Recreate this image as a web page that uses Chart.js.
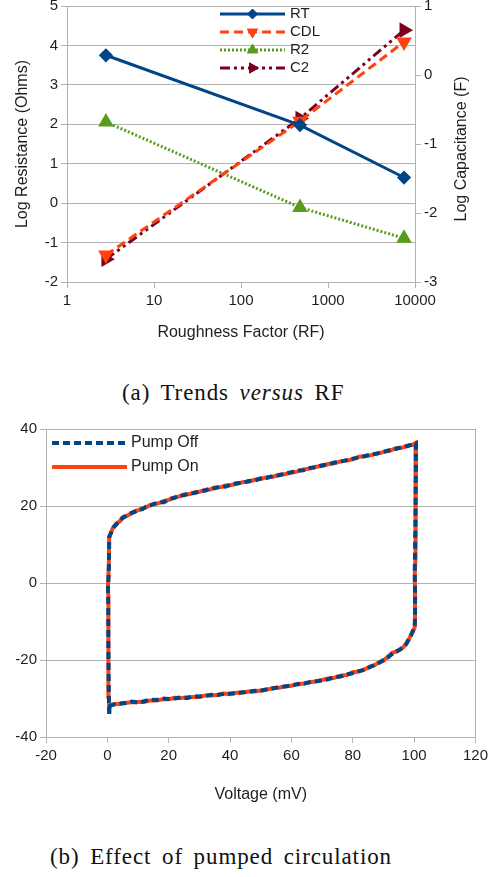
<!DOCTYPE html>
<html>
<head>
<meta charset="utf-8">
<script src="https://cdn.jsdelivr.net/npm/chart.js@4.4.1/dist/chart.umd.min.js"></script>
<style>
  html, body { margin: 0; padding: 0; background: #fff; }
  body { position: relative; width: 492px; height: 877px; overflow: hidden; }
  canvas { position: absolute; left: 0; }
  #trendsChart { top: -6px; }
  #pumpChart { top: 415px; }
  .caption {
    position: absolute; font-family: 'Liberation Serif', serif; font-size: 23px;
    line-height: 26px; color: #111; letter-spacing: 0.9px; word-spacing: 4px; white-space: nowrap;
  }
</style>
</head>
<body>
<canvas id="trendsChart" width="492" height="350"></canvas>
<div class="caption" style="left:122px; top:380px">(a) Trends <i>versus</i> RF</div>
<canvas id="pumpChart" width="492" height="395"></canvas>
<div class="caption" style="left:50px; top:844px">(b) Effect of pumped circulation</div>
<script>
// ---- (a) fitted parameters against roughness factor ----
const roughness = [2.8, 476, 7480];
const rtLog = [3.75, 1.98, 0.65];
const r2Log = [2.06, -0.11, -0.89];
const cdlLog = [-2.61, -0.67, 0.48];
const c2Log = [-2.67, -0.63, 0.65];
const roughnessTicks = [1, 10, 100, 1000, 10000];

// ---- (b) cyclic voltammogram, pump off / pump on ----
const sweepVoltage = [
  0.6, 0.5, 0.4, 0.3, 0.3, 0.2, 0.5, 0.6, 1.2, 2.0, 3.0, 4.0, 5.0, 6.5, 8.0, 9.0, 10.0, 11.5, 12.5, 14.0,
  15.0, 17.0, 18.5, 20.0, 22.0, 23.5, 25.0, 27.0, 28.5, 30.0, 32.0, 33.5, 35.0, 37.0, 38.5, 40.0, 42.0, 44.0,
  46.0, 48.0, 50.0, 52.0, 54.0, 56.0, 58.0, 60.0, 62.0, 64.0, 66.0, 68.0, 70.0, 72.0, 74.0, 76.0, 78.0, 80.0,
  82.0, 84.0, 86.0, 88.0, 90.0, 92.0, 94.0, 96.0, 98.0, 99.5, 100.6, 100.6, 100.5, 100.4, 100.3, 100.2, 100.3,
  100.3, 100.2, 99.6, 99.0, 98.2, 97.5, 96.5, 95.5, 94.5, 93.0, 91.5, 90.0, 88.5, 87.0, 85.5, 84.0, 82.0, 80.0,
  78.0, 76.0, 74.0, 72.0, 70.0, 68.0, 66.0, 64.0, 62.0, 60.0, 58.0, 56.0, 54.0, 52.0, 50.0, 48.0, 46.0, 44.0,
  42.0, 40.0, 38.0, 36.0, 34.0, 32.0, 30.0, 28.0, 26.0, 24.0, 22.0, 20.0, 18.0, 16.0, 14.0, 12.0, 10.0, 8.0,
  6.0, 4.0, 2.5, 1.5, 0.8, 0.6
];
const currentPumpOff = [
  -34.0, -30.0, -22.0, -12.0, -5.5, -2.0, 4.0, 11.9, 13.0, 14.4, 15.3, 16.2, 16.9, 17.6, 18.3, 18.5, 19.0, 19.2, 19.8, 20.1,
  20.5, 21.0, 21.0, 21.8, 22.1, 22.7, 22.8, 23.3, 23.4, 23.8, 24.0, 24.6, 24.6, 25.1, 25.0, 25.5, 25.9, 26.0,
  26.5, 26.6, 27.2, 27.3, 27.8, 28.0, 28.4, 28.8, 29.2, 29.3, 29.9, 30.1, 30.6, 30.8, 31.3, 31.5, 31.9, 32.3,
  32.6, 33.0, 33.4, 33.6, 34.1, 34.5, 34.8, 35.3, 35.6, 36.0, 36.3, 30.0, 22.0, 14.0, 8.0, 3.0, -2.0,
  -8.0, -11.3, -12.4, -13.6, -14.6, -15.8, -16.5, -17.3, -17.6, -18.3, -19.3, -20.0, -20.8, -21.3, -21.9, -22.5, -22.9, -23.4,
  -23.8, -24.3, -24.5, -25.0, -25.3, -25.5, -25.8, -26.1, -26.3, -26.6, -26.9, -27.0, -27.4, -27.6, -28.0, -28.0, -28.3, -28.4,
  -28.6, -28.7, -28.8, -29.1, -29.0, -29.3, -29.5, -29.4, -29.9, -29.7, -30.0, -30.1, -30.0, -30.4, -30.3, -30.7, -31.1, -30.8,
  -31.2, -31.3, -31.5, -31.7, -32.0, -34.0
];
const currentPumpOn = [
  -33.6, -29.5, -21.0, -11.0, -4.0, -1.0, 5.0, 12.1, 13.2, 14.6, 15.5, 16.0, 17.1, 17.5, 18.1, 18.7, 18.9, 19.4, 19.6, 20.3,
  20.4, 20.8, 21.3, 21.6, 22.3, 22.5, 23.0, 23.1, 23.6, 23.7, 24.2, 24.3, 24.8, 24.9, 25.3, 25.4, 25.7, 26.2,
  26.3, 26.8, 27.0, 27.5, 27.6, 28.1, 28.3, 28.6, 29.0, 29.5, 29.7, 30.2, 30.4, 30.9, 31.1, 31.6, 31.8, 32.1,
  32.8, 32.9, 33.2, 33.7, 34.0, 34.3, 35.0, 35.1, 35.7, 35.9, 36.4, 31.0, 23.0, 15.0, 7.0, 2.0, -3.0,
  -9.0, -11.5, -12.6, -13.4, -14.8, -15.6, -16.7, -17.1, -17.8, -18.1, -19.1, -20.2, -20.6, -21.4, -21.7, -22.4, -23.0, -23.2,
  -23.9, -24.1, -24.6, -24.8, -25.2, -25.6, -25.7, -26.2, -26.2, -26.7, -26.8, -27.2, -27.3, -27.7, -27.9, -28.2, -28.2, -28.5,
  -28.5, -28.9, -28.7, -29.0, -29.2, -29.2, -29.6, -29.6, -29.7, -29.9, -29.8, -30.2, -30.2, -30.5, -30.5, -30.9, -30.9, -31.0,
  -31.1, -31.4, -31.4, -31.6, -31.9, -33.8
];
const voltageTicks = { min: -20, max: 120, step: 20 };
const currentTicks = { min: -40, max: 40, step: 20 };

const gridColor = '#b3b3b3';
const textColor = '#1e1e1e';
Chart.defaults.font.family = "'Liberation Sans', Arial, sans-serif";
Chart.defaults.color = textColor;

const points = (xs, ys) => xs.map((x, i) => ({ x: x, y: ys[i] }));

// line sample + marker + label for each dataset, stacked in a column
const seriesKey = {
  id: 'seriesKey',
  afterDatasetsDraw(chart, args, opts) {
    const ctx = chart.ctx;
    ctx.save();
    chart.data.datasets.forEach((ds, i) => {
      const y = opts.top + i * opts.rowGap;
      const x0 = opts.left, x1 = opts.left + opts.lineLength;
      ctx.strokeStyle = ds.borderColor;
      ctx.lineWidth = ds.borderWidth;
      ctx.setLineDash(ds.borderDash || []);
      ctx.beginPath();
      ctx.moveTo(x0, y);
      ctx.lineTo(x1, y);
      ctx.stroke();
      ctx.setLineDash([]);
      if (ds.pointRadius > 0) {
        ctx.fillStyle = ds.pointBackgroundColor;
        ctx.strokeStyle = ds.pointBorderColor;
        ctx.lineWidth = 1;
        Chart.helpers.drawPoint(ctx, {
          pointStyle: ds.pointStyle, radius: ds.pointRadius,
          rotation: ds.pointRotation || 0, borderWidth: 1
        }, (x0 + x1) / 2, y);
      }
      ctx.fillStyle = textColor;
      ctx.font = opts.fontSize + "px 'Liberation Sans', Arial, sans-serif";
      ctx.textBaseline = 'middle';
      ctx.textAlign = 'left';
      ctx.fillText(ds.label, x1 + opts.textGap, y);
    });
    ctx.restore();
  }
};

// right-hand axis title, read from bottom to top like the left one
const rightTitle = {
  id: 'rightTitle',
  afterDraw(chart, args, opts) {
    const ctx = chart.ctx;
    ctx.save();
    ctx.translate(opts.x, opts.y);
    ctx.rotate(-Math.PI / 2);
    ctx.fillStyle = textColor;
    ctx.font = "16px 'Liberation Sans', Arial, sans-serif";
    ctx.textAlign = 'center';
    ctx.textBaseline = 'middle';
    ctx.fillText(opts.text, 0, 0);
    ctx.restore();
  }
};

const tickFont = { size: 15 };
const titleFont = { size: 16 };

new Chart(document.getElementById('trendsChart'), {
  type: 'line',
  data: {
    datasets: [
      {
        label: 'RT', data: points(roughness, rtLog), yAxisID: 'y',
        borderColor: '#004586', borderWidth: 3,
        pointStyle: 'rectRot', pointRadius: 5,
        pointBackgroundColor: '#004586', pointBorderColor: '#004586'
      },
      {
        label: 'CDL', data: points(roughness, cdlLog), yAxisID: 'y2',
        borderColor: '#ff420e', borderWidth: 3, borderDash: [9, 5],
        pointStyle: 'triangle', pointRotation: 180, pointRadius: 6,
        pointBackgroundColor: '#ff420e', pointBorderColor: '#ff420e'
      },
      {
        label: 'R2', data: points(roughness, r2Log), yAxisID: 'y',
        borderColor: '#579d1c', borderWidth: 3, borderDash: [2, 2],
        pointStyle: 'triangle', pointRadius: 6,
        pointBackgroundColor: '#579d1c', pointBorderColor: '#579d1c'
      },
      {
        label: 'C2', data: points(roughness, c2Log), yAxisID: 'y2',
        borderColor: '#7e0021', borderWidth: 3, borderDash: [10, 4, 3, 4, 3, 4],
        pointStyle: 'triangle', pointRotation: 90, pointRadius: 6,
        pointBackgroundColor: '#7e0021', pointBorderColor: '#7e0021'
      }
    ]
  },
  options: {
    responsive: false,
    animation: false,
    layout: { padding: { top: 10, left: 0, right: 0, bottom: 0 } },
    scales: {
      x: {
        type: 'logarithmic', min: 1, max: 10000,
        afterBuildTicks: s => { s.ticks = roughnessTicks.map(v => ({ value: v })); },
        afterFit: s => { s.height = 62; },
        ticks: { callback: v => String(v), font: tickFont, maxRotation: 0, autoSkip: false, padding: 4 },
        grid: { drawOnChartArea: false, tickLength: 6, color: gridColor },
        border: { color: gridColor },
        title: { display: true, text: 'Roughness Factor (RF)', font: titleFont, padding: { top: 0, bottom: 2 } }
      },
      y: {
        position: 'left', min: -2, max: 5,
        afterFit: s => { s.width = 67; },
        ticks: { stepSize: 1, font: tickFont, padding: 3 },
        grid: { color: gridColor, tickLength: 6 },
        border: { color: gridColor },
        title: { display: true, text: 'Log Resistance (Ohms)', font: titleFont, padding: { top: 13, bottom: 0 } }
      },
      y2: {
        position: 'right', min: -3, max: 1,
        afterFit: s => { s.width = 77; },
        ticks: { stepSize: 1, font: tickFont, padding: 3 },
        grid: { drawOnChartArea: false, color: gridColor, tickLength: 6 },
        border: { color: gridColor }
      }
    },
    plugins: {
      legend: { display: false },
      tooltip: { enabled: false },
      seriesKey: { left: 220, top: 20, rowGap: 18, lineLength: 65, textGap: 5, fontSize: 15 },
      rightTitle: { text: 'Log Capacitance (F)', x: 462, y: 155 }
    }
  },
  plugins: [seriesKey, rightTitle]
});

new Chart(document.getElementById('pumpChart'), {
  type: 'scatter',
  data: {
    datasets: [
      {
        label: 'Pump Off', data: points(sweepVoltage, currentPumpOff), order: 0,
        showLine: true, pointRadius: 0, borderColor: '#004586', borderWidth: 4, borderDash: [7, 4]
      },
      {
        label: 'Pump On', data: points(sweepVoltage, currentPumpOn), order: 1,
        showLine: true, pointRadius: 0, borderColor: '#ff420e', borderWidth: 4
      }
    ]
  },
  options: {
    responsive: false,
    animation: false,
    layout: { padding: { top: 14, left: 0, right: 14, bottom: 0 } },
    scales: {
      x: {
        type: 'linear', min: voltageTicks.min, max: voltageTicks.max,
        afterFit: s => { s.height = 73; },
        ticks: { stepSize: voltageTicks.step, font: tickFont, maxRotation: 0, padding: 4 },
        grid: {
          color: c => (c.tick && c.tick.value === voltageTicks.max ? gridColor : 'rgba(0,0,0,0)'),
          tickColor: gridColor, tickLength: 6
        },
        border: { color: gridColor },
        title: { display: true, text: 'Voltage (mV)', font: titleFont, padding: { top: 0, bottom: 6 } }
      },
      y: {
        min: currentTicks.min, max: currentTicks.max,
        afterFit: s => { s.width = 46; },
        ticks: { stepSize: currentTicks.step, font: tickFont, padding: 3 },
        grid: { color: gridColor, tickLength: 6 },
        border: { color: gridColor }
      }
    },
    plugins: {
      legend: { display: false },
      tooltip: { enabled: false },
      seriesKey: { left: 52, top: 28, rowGap: 24, lineLength: 75, textGap: 4, fontSize: 16 }
    }
  },
  plugins: [seriesKey]
});
</script>
</body>
</html>
